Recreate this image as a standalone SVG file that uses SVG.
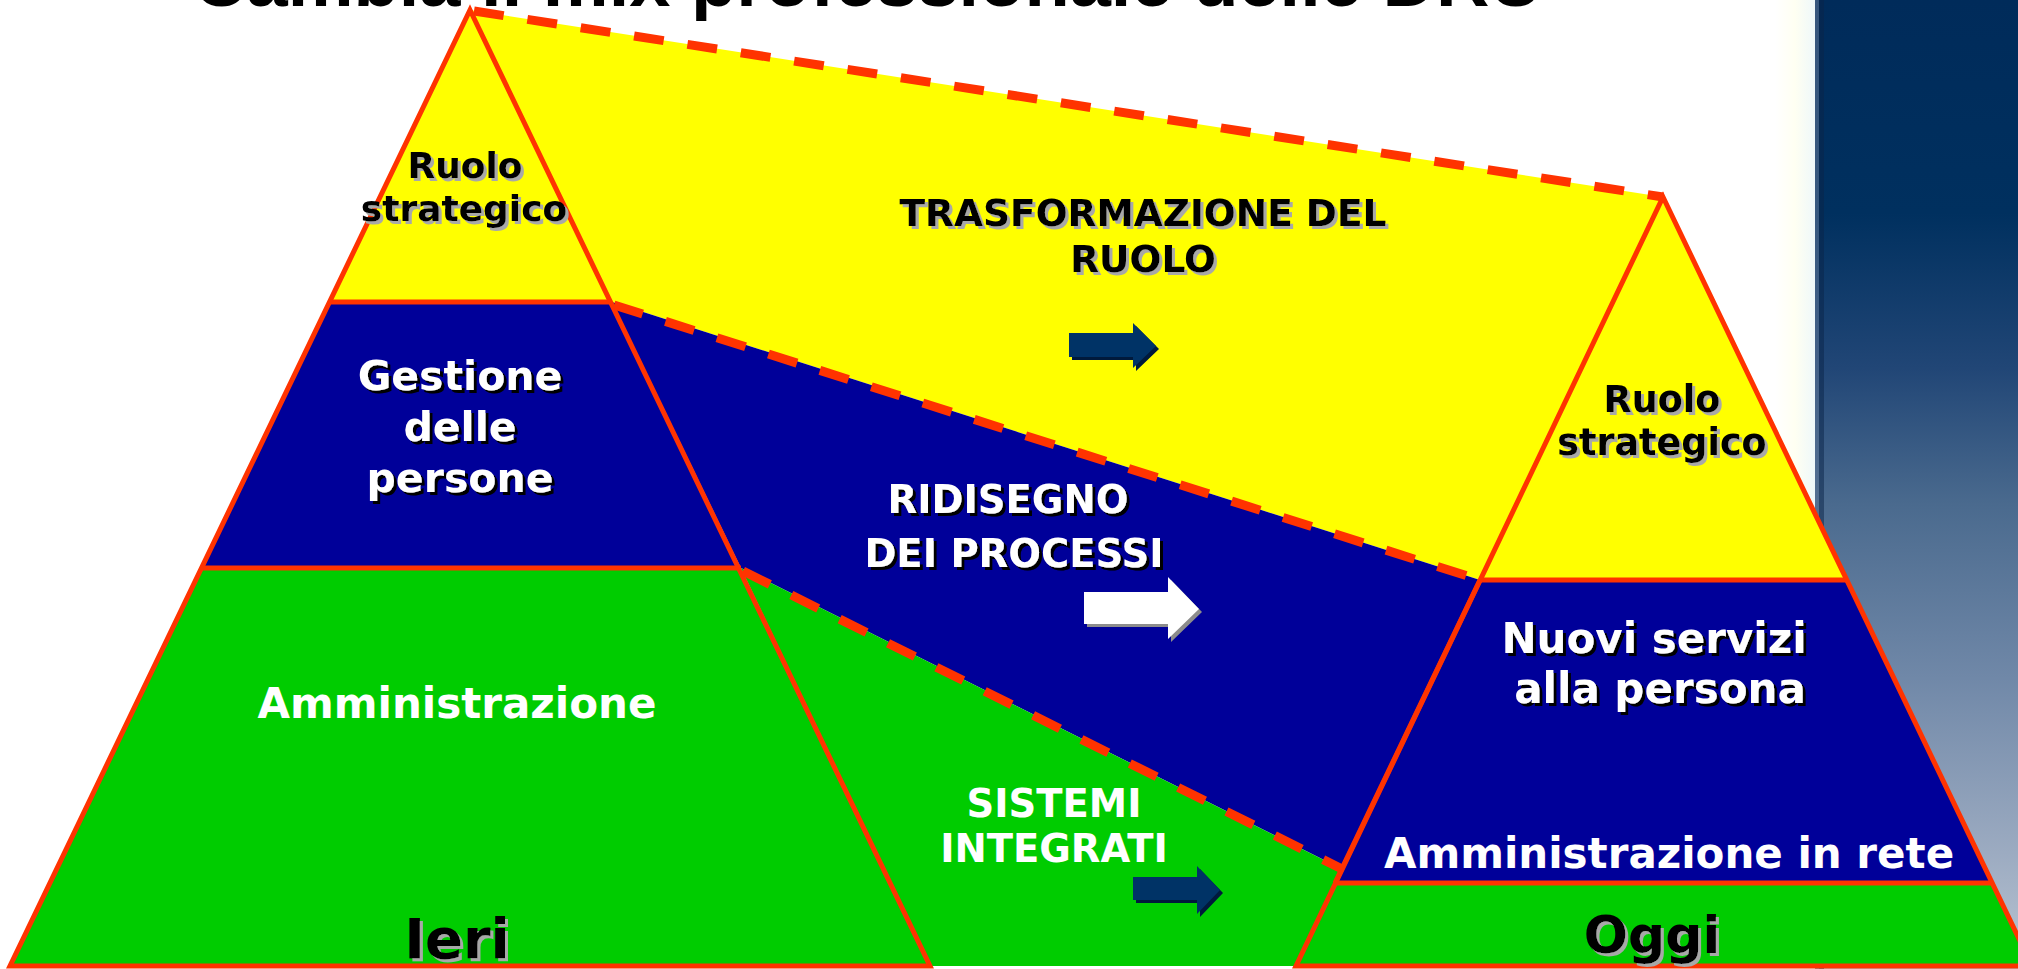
<svg xmlns="http://www.w3.org/2000/svg" width="2018" height="969" viewBox="0 0 2018 969">
  <defs>
    <linearGradient id="strip" x1="0" y1="0" x2="0" y2="1">
      <stop offset="0" stop-color="#002B5A"/>
      <stop offset="0.22" stop-color="#00305F"/>
      <stop offset="0.38" stop-color="#214676"/>
      <stop offset="0.52" stop-color="#4A6A8E"/>
      <stop offset="0.7" stop-color="#7088A8"/>
      <stop offset="0.88" stop-color="#9CABC1"/>
      <stop offset="1" stop-color="#BAC5D2"/>
    </linearGradient>
    <linearGradient id="fade" x1="0" y1="0" x2="1" y2="0">
      <stop offset="0" stop-color="#FFFFFF"/>
      <stop offset="0.5" stop-color="#FFFFF2"/>
      <stop offset="1" stop-color="#EEF8FA"/>
    </linearGradient>
    <filter id="shGray" x="-10%" y="-30%" width="120%" height="160%">
      <feDropShadow dx="3" dy="3" stdDeviation="0" flood-color="#A8A8A8" flood-opacity="1"/>
    </filter>
    <filter id="shBlack" x="-10%" y="-30%" width="120%" height="160%">
      <feDropShadow dx="3" dy="3" stdDeviation="0" flood-color="#000000" flood-opacity="1"/>
    </filter>
  </defs>
  <style>
    .y { fill: #FFFF00; }
    .b { fill: #000099; }
    .g { fill: #00CC00; }
    .edge { fill: none; stroke: #FF3300; stroke-width: 5; stroke-linejoin: miter; }
    .dash { fill: none; stroke: #FF3300; stroke-width: 9; stroke-dasharray: 30 24; }
    .t { font-family: "DejaVu Sans", Verdana, sans-serif; font-weight: bold; text-anchor: middle; }
    .dk { fill: #000000; filter: url(#shGray); }
    .wh { fill: #FFFFFF; filter: url(#shBlack); }
    .wn { fill: #FFFFFF; }
    .navy { fill: #003366; }
    .navysh { fill: #001A3C; }
  </style>

  <rect x="0" y="0" width="2018" height="969" fill="#FFFFFF"/>
  <rect x="1775" y="0" width="40" height="969" fill="url(#fade)"/>
  <g id="side-strip">
    <rect x="1815" y="0" width="203" height="969" fill="url(#strip)"/>
    <rect x="1815" y="0" width="4" height="969" fill="#5A7394" opacity="0.6"/>
    <rect x="1819" y="0" width="5" height="969" fill="#0A2448" opacity="0.5"/>
  </g>

  <g id="title">
    <text x="193" y="6" font-family="'Liberation Sans', Arial, sans-serif" font-weight="bold" font-size="73" fill="#000000" textLength="1350" lengthAdjust="spacingAndGlyphs">Cambia il mix professionale delle DRU</text>
  </g>

  <g id="bands">
    <polygon id="band-yellow" class="y" points="470,10 1663,197 1480,580 612,302"/>
    <polygon id="band-blue" class="b" points="612,302 1480,580 1342,869 741,568"/>
    <polygon id="band-green" class="g" points="741,568 1342,869 1296,966 930,966"/>
  </g>

  <g id="left-pyramid">
    <polygon class="y" points="470,10 329,302 612,302"/>
    <polygon class="b" points="329,302 612,302 741,568 201,568"/>
    <polygon class="g" points="201,568 741,568 930,966 10,966"/>
    <polygon class="edge" points="470,10 930,966 10,966"/>
    <line class="edge" x1="329" y1="302" x2="612" y2="302"/>
    <line class="edge" x1="201" y1="568" x2="741" y2="568"/>
  </g>

  <g id="right-pyramid">
    <polygon class="y" points="1663,197 1480,580 1847,580"/>
    <polygon class="b" points="1480,580 1847,580 1992,883 1335,883"/>
    <polygon class="g" points="1335,883 1992,883 2032,966 1296,966"/>
    <polyline class="edge" points="2032,966 1296,966 1663,197 2032,966"/>
    <line class="edge" x1="1480" y1="580" x2="1847" y2="580"/>
    <line class="edge" x1="1335" y1="883" x2="1992" y2="883"/>
    <line class="edge" x1="1480" y1="580" x2="1335" y2="883" stroke-width="8"/>
  </g>

  <g id="connectors">
    <line class="dash" x1="474" y1="11" x2="1663" y2="197"/>
    <line class="dash" x1="614" y1="305" x2="1480" y2="580"/>
    <line class="dash" x1="743" y1="571" x2="1342" y2="869"/>
    <g id="arrow-role">
      <polygon class="navysh" points="1072,336 1136,336 1136,326 1159,349 1136,371 1136,360 1072,360"/>
      <polygon class="navy" points="1069,333 1133,333 1133,323 1156,346 1133,368 1133,357 1069,357"/>
    </g>
    <g id="arrow-process">
      <polygon fill="#8C8C8C" points="1087,595 1171,595 1171,580 1202,612 1171,642 1171,627 1087,627"/>
      <polygon fill="#FFFFFF" points="1084,592 1168,592 1168,577 1199,609 1168,639 1168,624 1084,624"/>
    </g>
    <g id="arrow-systems">
      <polygon class="navysh" points="1136,880 1200,880 1200,869 1223,893 1200,917 1200,903 1136,903"/>
      <polygon class="navy" points="1133,877 1197,877 1197,866 1220,890 1197,914 1197,900 1133,900"/>
    </g>
  </g>

  <g id="node-ruolo-ieri">
    <text class="t dk" x="465" y="178" font-size="36">Ruolo</text>
    <text class="t dk" x="464" y="221" font-size="36">strategico</text>
  </g>
  <g id="node-gestione">
    <text class="t wh" x="460" y="390" font-size="41">Gestione</text>
    <text class="t wh" x="460" y="441" font-size="41">delle</text>
    <text class="t wh" x="460" y="492" font-size="41">persone</text>
  </g>
  <g id="node-amministrazione">
    <text class="t wn" x="457" y="718" font-size="42">Amministrazione</text>
  </g>
  <g id="node-ieri">
    <text class="t dk" x="457" y="958" font-size="56">Ieri</text>
  </g>
  <g id="node-trasformazione">
    <text class="t dk" x="1143" y="226" font-size="37.5">TRASFORMAZIONE DEL</text>
    <text class="t dk" x="1143" y="272" font-size="37.5">RUOLO</text>
  </g>
  <g id="node-ridisegno">
    <text class="t wh" x="1008" y="513" font-size="38.5">RIDISEGNO</text>
    <text class="t wh" x="1014" y="567" font-size="38.5">DEI PROCESSI</text>
  </g>
  <g id="node-sistemi">
    <text class="t wn" x="1054" y="817" font-size="38.5">SISTEMI</text>
    <text class="t wn" x="1054" y="862" font-size="38.5">INTEGRATI</text>
  </g>
  <g id="node-ruolo-oggi">
    <text class="t dk" x="1662" y="412" font-size="36.5">Ruolo</text>
    <text class="t dk" x="1662" y="455" font-size="36.5">strategico</text>
  </g>
  <g id="node-nuovi-servizi">
    <text class="t wh" x="1654" y="653" font-size="42">Nuovi servizi</text>
    <text class="t wh" x="1660" y="703" font-size="42">alla persona</text>
  </g>
  <g id="node-amministrazione-rete">
    <text class="t wn" x="1669" y="868" font-size="42">Amministrazione in rete</text>
  </g>
  <g id="node-oggi">
    <text class="t dk" x="1652" y="953" font-size="52">Oggi</text>
  </g>
</svg>
